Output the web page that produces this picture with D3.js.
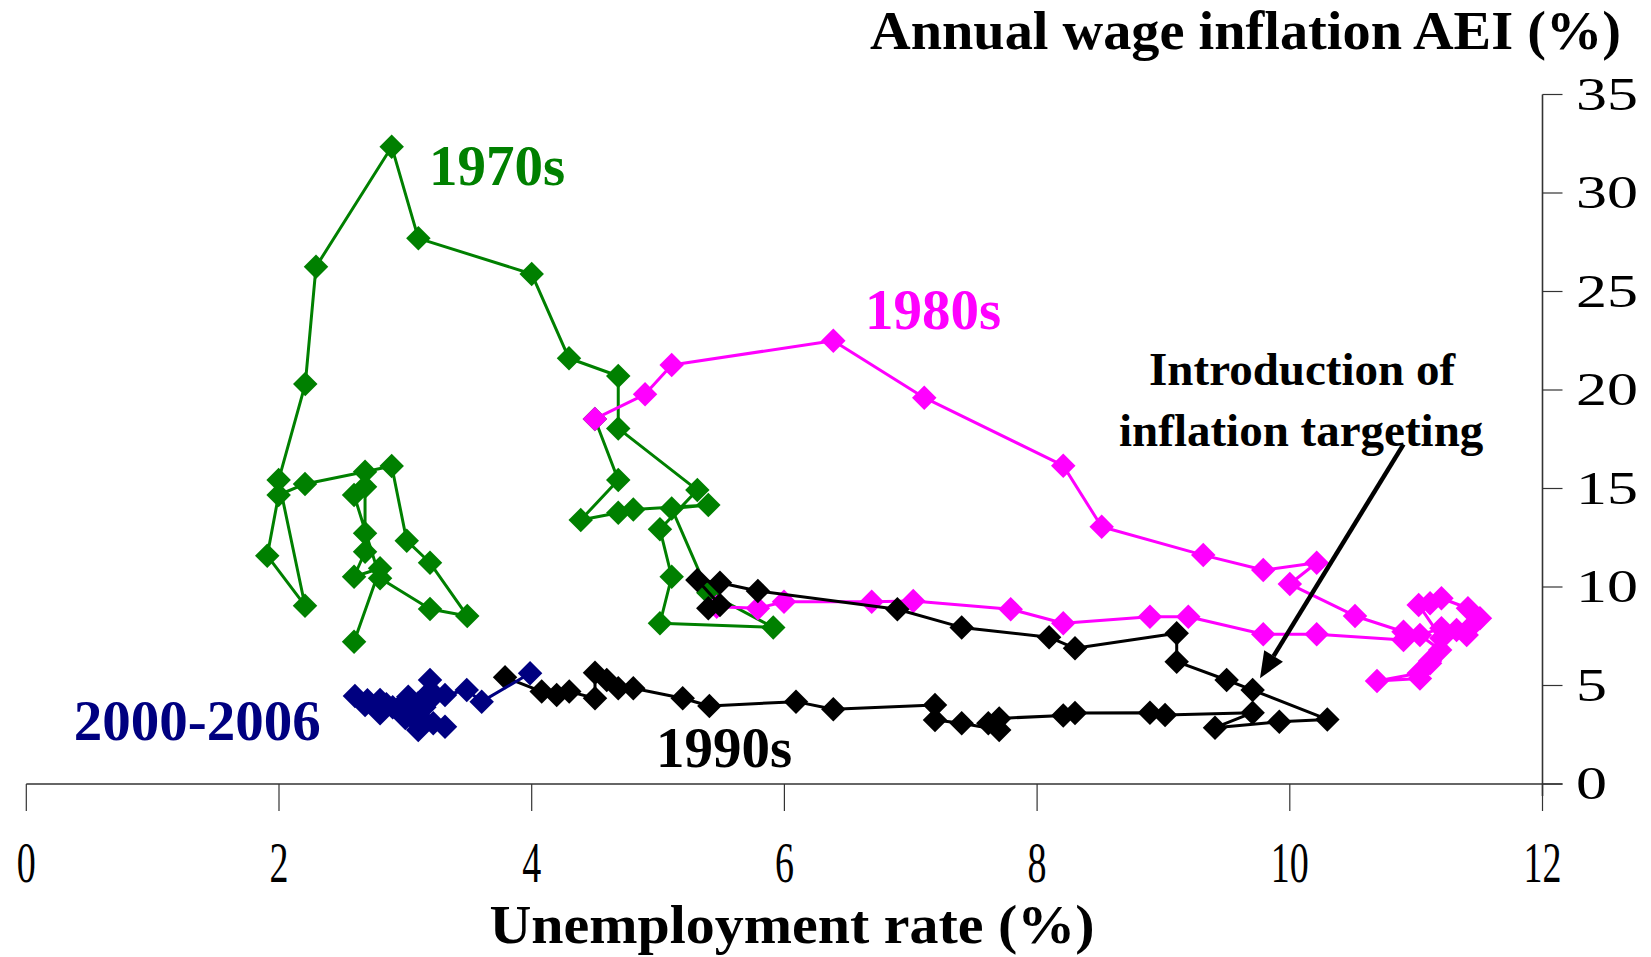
<!DOCTYPE html>
<html><head><meta charset="utf-8">
<script src="https://cdn.jsdelivr.net/npm/d3@7"></script>
<style>body{margin:0;background:#fff}svg{display:block}</style>
</head><body>
<svg id="chart" width="1651" height="957"></svg>
<script>
// ---------- DATA ----------
const u1970s = [2.594,2.80,2.594,2.681,2.681,2.681,2.594,2.80,3.195,3.49,3.195,3.011,2.892,2.681,2.206,1.997,1.907,2.206,1.997,2.208,
                2.293,2.892,3.103,4.0,4.295,4.685,4.685,5.311,5.015,5.108,5.015,5.912,5.398,5.108,5.398,4.804,4.685,4.388,4.685,4.50];
const w1970s = [7.22,10.95,10.52,11.79,12.73,15.09,14.67,10.44,8.88,8.53,11.23,12.35,16.14,15.85,15.23,14.67,11.59,9.05,15.43,20.3,
                26.26,32.35,27.7,25.89,21.61,20.71,18.05,14.92,12.93,10.52,8.16,7.95,9.71,13.99,14.16,13.94,13.77,13.40,15.43,18.53];

const u1980s = [4.50,4.897,5.108,6.387,7.107,8.207,8.511,9.315,9.79,10.213,10.0,10.516,
                10.90,11.03,11.19,11.11,11.02,10.69,11.03,11.11,11.20,11.02,11.11,11.20,11.41,11.505,11.45,11.40,11.32,11.20,10.90,
                10.213,9.79,9.197,8.893,8.207,7.791,7.02,6.691,5.997,5.79,5.464];
const w1980s = [18.53,19.78,21.27,22.50,19.61,16.16,13.06,11.62,10.86,11.23,10.15,8.53,
                7.73,7.56,6.80,6.13,5.62,5.23,5.35,6.25,7.40,9.09,9.17,9.43,8.92,8.41,8.10,7.56,7.82,7.90,7.31,
                7.60,7.60,8.49,8.49,8.16,8.87,9.29,9.25,9.25,8.92,9.00];

const u1990s = [5.398,5.49,5.311,5.49,5.79,6.894,7.403,8.095,8.30,9.105,9.105,9.50,9.706,10.297,9.917,9.408,9.706,9.013,8.893,8.30,
                8.207,7.70,7.614,7.70,7.403,7.192,7.192,6.387,6.092,5.406,5.195,4.804,4.685,4.594,4.501,4.501,4.297,4.198,4.079,3.789];
const w1990s = [8.92,9.09,10.36,10.22,9.80,8.87,7.95,7.45,6.89,7.65,6.21,5.28,4.77,3.28,3.16,2.86,3.62,3.50,3.62,3.60,
                3.48,3.33,3.08,2.74,3.08,3.25,4.01,3.79,4.18,3.96,4.35,4.86,4.86,5.28,5.65,4.35,4.69,4.52,4.69,5.42];

const u2000s = [3.987,3.604,3.486,3.314,3.195,3.195,3.023,3.116,3.314,3.221,3.102,3.05,2.958,2.80,2.80,2.681,2.601,2.70,2.85,2.95,
                3.0,3.08,3.10,3.0,2.90,3.05,3.15,3.20];
const w2000s = [5.62,4.18,4.77,4.52,5.28,4.69,4.43,3.42,2.91,3.08,2.74,3.40,3.92,3.59,4.26,4.01,4.47,4.25,4.05,3.70,
                3.35,3.75,4.10,4.20,3.90,3.60,3.90,4.30];

const seriesNames = ["1970s","1980s","1990s","2000-2006"];
const xTicks = [0,2,4,6,8,10,12];
const yTicks = [0,5,10,15,20,25,30,35];
const xTitle = "Unemployment rate (%)";
const yTitle = "Annual wage inflation AEI (%)";
const noteLines = ["Introduction of","inflation targeting"];
const arrowFrom = [10.90,17.24];
const arrowTo = [9.764,5.37];

// ---------- SETUP ----------
const seriesData = [
  d3.zip(u1970s,w1970s), d3.zip(u1980s,w1980s), d3.zip(u1990s,w1990s), d3.zip(u2000s,w2000s)
];
const colors = ["#008000","#ff00ff","#000000","#000080"];
const labelPos = [[3.187,30.41],[6.638,23.10],[4.984,0.888],[0.375,2.23]];

const svg = d3.select("#chart");
svg.append("rect").attr("width",1651).attr("height",957).attr("fill","#fff");
const x = d3.scaleLinear().domain([0,12]).range([26.3,1542.5]);
const y = d3.scaleLinear().domain([0,35]).range([784,94.5]);
const serif = "'Liberation Serif','Times New Roman',serif";

// axes
const axisCol = "#333";
svg.append("line").attr("x1",x(0)).attr("x2",x(12)+20).attr("y1",y(0)).attr("y2",y(0))
  .attr("stroke",axisCol).attr("stroke-width",1.6);
svg.append("line").attr("x1",x(12)).attr("x2",x(12)).attr("y1",y(35)).attr("y2",y(0)+12)
  .attr("stroke",axisCol).attr("stroke-width",1.6);
svg.selectAll(".xt").data(xTicks).enter().append("line")
  .attr("x1",d=>x(d)).attr("x2",d=>x(d)).attr("y1",y(0)).attr("y2",y(0)+27)
  .attr("stroke",axisCol).attr("stroke-width",1.2);
svg.selectAll(".yt").data(yTicks).enter().append("line")
  .attr("x1",x(12)).attr("x2",x(12)+20).attr("y1",d=>y(d)).attr("y2",d=>y(d))
  .attr("stroke",axisCol).attr("stroke-width",1.2);

svg.selectAll(".xl").data(xTicks).enter().append("text")
  .attr("x",d=>x(d)).attr("y",882).attr("text-anchor","middle")
  .attr("font-family",serif).attr("font-size",56)
  .attr("textLength",d=>String(d).length*19).attr("lengthAdjust","spacingAndGlyphs")
  .text(d=>d);
svg.selectAll(".yl").data(yTicks).enter().append("text")
  .attr("x",1576).attr("y",d=>y(d)+15).attr("text-anchor","start")
  .attr("font-family",serif).attr("font-size",46)
  .attr("textLength",d=>String(d).length*31).attr("lengthAdjust","spacingAndGlyphs")
  .text(d=>d);

svg.append("text").attr("x",792).attr("y",943).attr("text-anchor","middle")
  .attr("font-family",serif).attr("font-weight","bold").attr("font-size",54)
  .attr("textLength",605).attr("lengthAdjust","spacingAndGlyphs").text(xTitle);
svg.append("text").attr("x",1621).attr("y",49).attr("text-anchor","end")
  .attr("font-family",serif).attr("font-weight","bold").attr("font-size",54)
  .attr("textLength",751).attr("lengthAdjust","spacingAndGlyphs").text(yTitle);

// series
const line = d3.line().x(d=>x(d[0])).y(d=>y(d[1]));
const diamond = d3.symbol().type(d3.symbolSquare).size(300);
seriesData.forEach((data,i)=>{
  const g = svg.append("g");
  g.append("path").datum(data).attr("d",line).attr("fill","none")
    .attr("stroke",colors[i]).attr("stroke-width",3).attr("stroke-linejoin","round");
  g.selectAll("path.m").data(data).enter().append("path").attr("class","m")
    .attr("d",diamond)
    .attr("transform",d=>`translate(${x(d[0])},${y(d[1])}) rotate(45)`)
    .attr("fill",colors[i]);
});

// series labels
seriesNames.forEach((name,i)=>{
  svg.append("text").attr("x",x(labelPos[i][0])).attr("y",y(labelPos[i][1]))
    .attr("font-family",serif).attr("font-weight","bold").attr("font-size",57)
    .attr("fill",colors[i]).text(name);
});

// annotation
const notePos = [[10.097,20.23],[10.09,17.16]];
noteLines.forEach((t,i)=>{
  svg.append("text").attr("x",x(notePos[i][0])).attr("y",y(notePos[i][1]))
    .attr("text-anchor","middle").attr("font-family",serif).attr("font-weight","bold")
    .attr("font-size",47).text(t);
});
const ax0 = x(arrowFrom[0]), ay0 = y(arrowFrom[1]), ax1 = x(arrowTo[0]), ay1 = y(arrowTo[1]);
const ang = Math.atan2(ay1-ay0, ax1-ax0);
const headLen = 26, headW = 11;
const bx = ax1 - headLen*Math.cos(ang), by = ay1 - headLen*Math.sin(ang);
svg.append("line").attr("x1",ax0).attr("y1",ay0).attr("x2",bx).attr("y2",by)
  .attr("stroke","#000").attr("stroke-width",4.5);
svg.append("path").attr("d",`M${ax1},${ay1} L${bx+headW*Math.sin(ang)},${by-headW*Math.cos(ang)} L${bx-headW*Math.sin(ang)},${by+headW*Math.cos(ang)} Z`)
  .attr("fill","#000");
</script>
</body></html>
